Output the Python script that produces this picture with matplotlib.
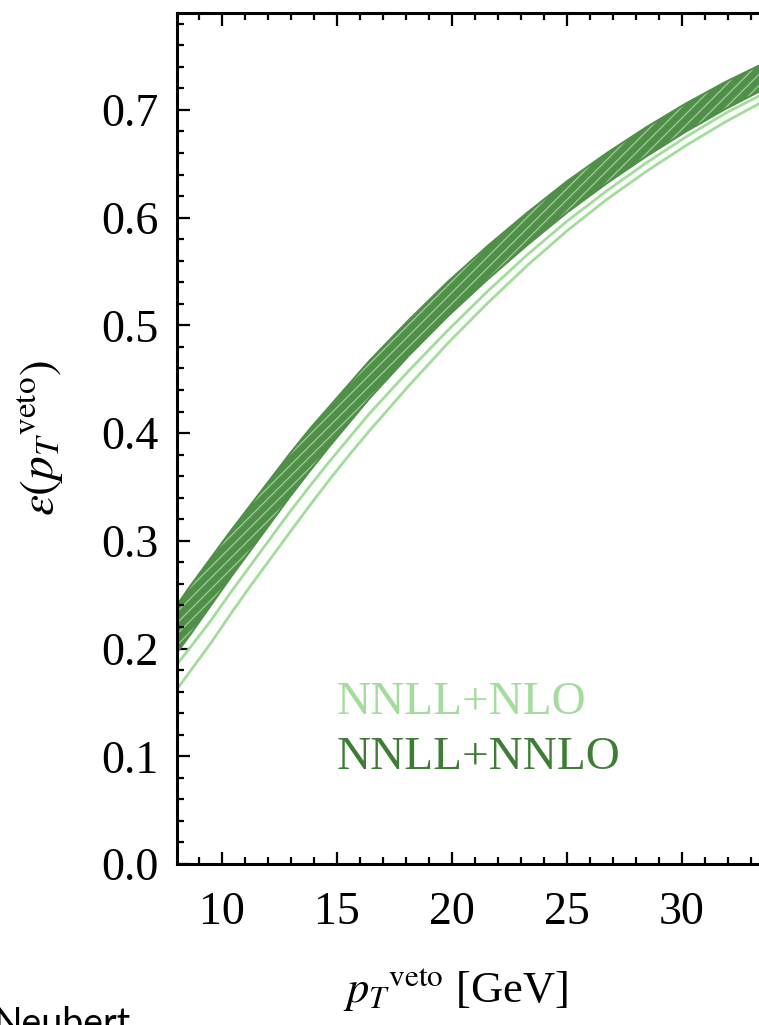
import matplotlib
matplotlib.use("Agg")
import matplotlib.pyplot as plt
from matplotlib.ticker import MultipleLocator

# p_T^veto [GeV]
pt = [8.04, 8.66, 9.52, 10.38, 11.24, 12.10, 12.96, 13.83, 14.69, 15.55, 16.41, 17.27, 18.13,
      19.85, 21.57, 23.30, 25.02, 26.74, 28.46, 30.18, 31.90, 33.63, 35.35]

# NNLL+NNLO band (dark)
nnlo_hi = [0.240, 0.259, 0.284, 0.309, 0.333, 0.357, 0.381, 0.404, 0.425, 0.446, 0.467, 0.486, 0.505,
           0.541, 0.574, 0.605, 0.634, 0.660, 0.684, 0.706, 0.726, 0.744, 0.761]
nnlo_lo = [0.196, 0.214, 0.240, 0.266, 0.291, 0.316, 0.341, 0.365, 0.388, 0.410, 0.432, 0.452, 0.472,
           0.509, 0.543, 0.575, 0.605, 0.632, 0.657, 0.680, 0.701, 0.720, 0.737]

# NNLL+NLO band (light)
nlo_hi = [0.185, 0.202, 0.226, 0.252, 0.277, 0.302, 0.327, 0.351, 0.374, 0.396, 0.418, 0.438, 0.458,
          0.496, 0.532, 0.566, 0.597, 0.625, 0.651, 0.675, 0.697, 0.716, 0.733]
nlo_lo = [0.162, 0.180, 0.205, 0.232, 0.258, 0.283, 0.308, 0.333, 0.357, 0.380, 0.402, 0.423, 0.444,
          0.484, 0.521, 0.556, 0.588, 0.617, 0.643, 0.667, 0.689, 0.709, 0.727]

light = "#a3dc9c"
dark = "#3f7d36"
band = "#4f8f47"

plt.rcParams["font.family"] = ["Liberation Serif", "DejaVu Serif"]
plt.rcParams["mathtext.fontset"] = "stix"
plt.rcParams["hatch.linewidth"] = 1.0

fig = plt.figure(figsize=(7.59, 10.25), dpi=100)
W, H = 759, 1025
x0, x1 = 8.05, 34.5
left, top, bottom = 177, 13, 864
right = left + (x1 - x0) * 23.0
ax = fig.add_axes([left / W, 1 - bottom / H, (right - left) / W, (bottom - top) / H])

# NLO band
ax.fill_between(pt, nlo_lo, nlo_hi, color="#fbfefa", lw=0)
ax.plot(pt, nlo_lo, color=light, lw=2)
ax.plot(pt, nlo_hi, color=light, lw=2)

# NNLO band, hatched
ax.fill_between(pt, nnlo_lo, nnlo_hi, facecolor=band, edgecolor="#9cc596", hatch="///", lw=0)
ax.plot(pt, nnlo_lo, color=band, lw=1.5)
ax.plot(pt, nnlo_hi, color=band, lw=1.5)

ax.set_xlim(x0, x1)
ax.set_ylim(0, 0.79)
ax.xaxis.set_major_locator(MultipleLocator(5))
ax.xaxis.set_minor_locator(MultipleLocator(1))
ax.yaxis.set_major_locator(MultipleLocator(0.1))
ax.yaxis.set_minor_locator(MultipleLocator(0.02))
ax.yaxis.set_major_formatter(plt.FuncFormatter(lambda v, p: f"{v:.1f}"))

ax.tick_params(which="both", direction="in", top=True, right=True, width=1.6, labelsize=33)
ax.tick_params(which="major", length=9)
ax.tick_params(which="minor", length=5)
ax.tick_params(axis="x", pad=20)
ax.tick_params(axis="y", pad=13)
for s in ax.spines.values():
    s.set_linewidth(2.2)

ax.text(15.0, 0.150, "NNLL+NLO", color=light, fontsize=34, ha="left", va="center")
ax.text(15.0, 0.099, "NNLL+NNLO", color=dark, fontsize=34, ha="left", va="center")

fig.text(455 / W, 1 - 990 / H, r"$p_T{}^{\mathrm{veto}}$ [GeV]", fontsize=32, ha="center", va="center")
fig.text(40 / W, 1 - 438 / H, r"$\epsilon(p_T{}^{\mathrm{veto}})$", fontsize=34, rotation=90,
         ha="center", va="center")
fig.text(-0.008, -0.01, "Neubert", fontsize=27, family="Lato", ha="left", va="baseline")

fig.savefig("out.png", dpi=100)
